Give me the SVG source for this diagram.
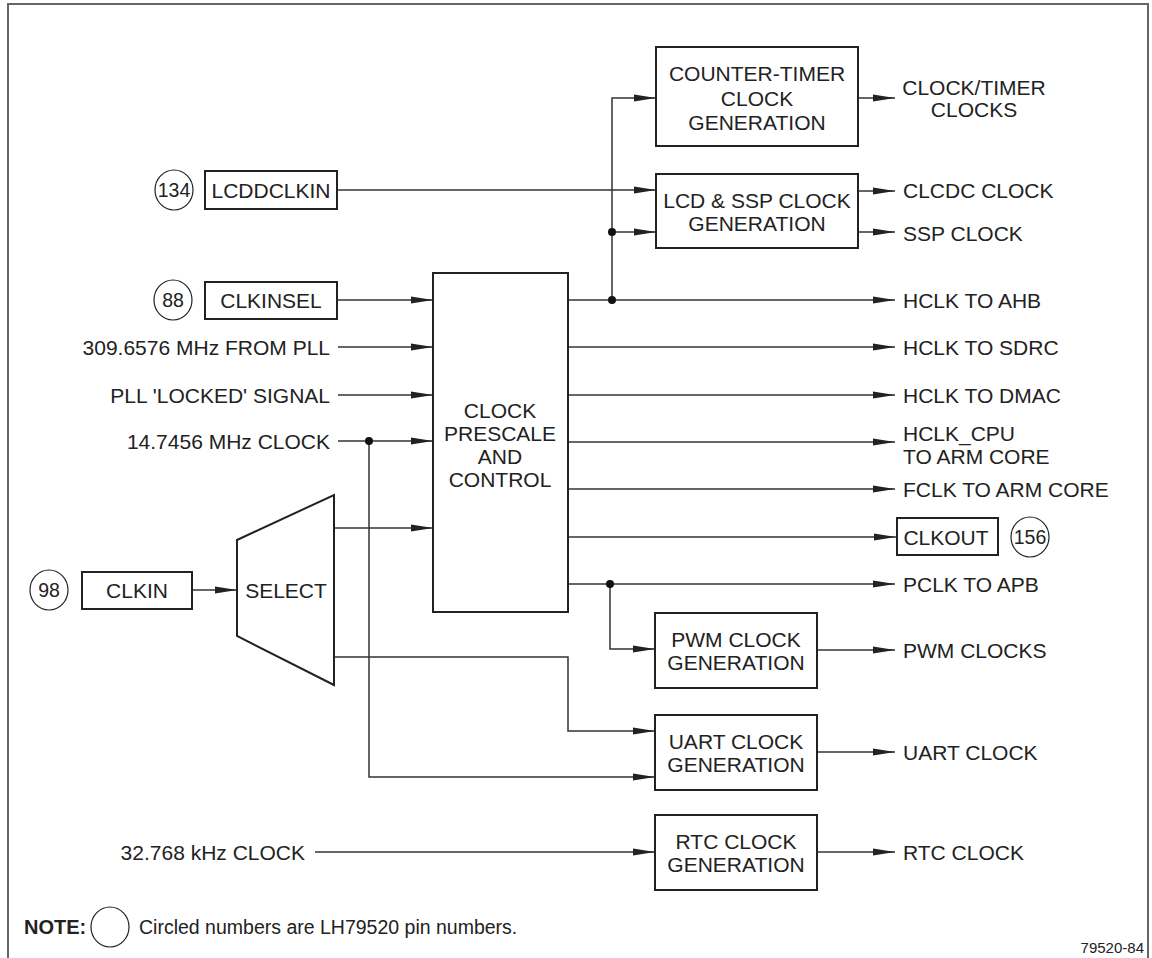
<svg xmlns="http://www.w3.org/2000/svg" width="1152" height="958" viewBox="0 0 1152 958">
<defs>
<marker id="ah" markerUnits="userSpaceOnUse" markerWidth="23" markerHeight="9" refX="22" refY="4" orient="auto">
<path d="M0,0.5 L22,4 L0,7.5 z" fill="#222"/>
</marker>
<style>
text{font-family:"Liberation Sans",Arial,sans-serif;font-size:21px;fill:#222;dominant-baseline:central}
.c{text-anchor:middle}
.e{text-anchor:end}
.n{font-size:19.5px}
.box{fill:#fff;stroke:#222;stroke-width:2}
.pin{fill:#fff;stroke:#222;stroke-width:1.2}
.w{fill:none;stroke:#333;stroke-width:1.5}
.a{marker-end:url(#ah)}
.dot{fill:#111}
</style>
</defs>
<rect width="1152" height="958" fill="#fff"/>
<path d="M8,958 V4 H1148 V958" fill="none" stroke="#666" stroke-width="2"/>

<g id="connectors">
<path class="w a" d="M612,300 V98 H656"/>
<path class="w a" d="M612,232 H656"/>
<path class="w a" d="M337,190 H656"/>
<path class="w a" d="M858,98 H895"/>
<path class="w a" d="M858,191 H895"/>
<path class="w a" d="M858,232 H895"/>
<path class="w a" d="M337,300 H433"/>
<path class="w a" d="M338,347 H433"/>
<path class="w a" d="M338,395 H433"/>
<path class="w a" d="M338,441 H433"/>
<path class="w a" d="M369,441 V777 H655"/>
<path class="w a" d="M192,590 H237"/>
<path class="w a" d="M334,528 H433"/>
<path class="w a" d="M334,657 H568 V731 H655"/>
<path class="w a" d="M568,300 H895"/>
<path class="w a" d="M568,347 H895"/>
<path class="w a" d="M568,395 H895"/>
<path class="w a" d="M568,442 H895"/>
<path class="w a" d="M568,489 H895"/>
<path class="w a" d="M568,537 H896"/>
<path class="w a" d="M568,584 H895"/>
<path class="w a" d="M610,584 V649 H655"/>
<path class="w a" d="M817,650 H895"/>
<path class="w a" d="M817,752 H895"/>
<path class="w a" d="M315,852 H655"/>
<path class="w a" d="M817,852 H895"/>
<circle class="dot" cx="612" cy="232" r="4"/>
<circle class="dot" cx="612" cy="300" r="4"/>
<circle class="dot" cx="369" cy="441" r="4"/>
<circle class="dot" cx="610" cy="584" r="4"/>
</g>

<g id="counter-timer">
<rect class="box" x="656" y="47" width="202" height="99"/>
<text class="c" x="757" y="73">COUNTER-TIMER</text>
<text class="c" x="757" y="98">CLOCK</text>
<text class="c" x="757" y="122">GENERATION</text>
</g>
<g id="lcd-ssp">
<rect class="box" x="656" y="174" width="202" height="74"/>
<text class="c" x="757" y="200">LCD &amp; SSP CLOCK</text>
<text class="c" x="757" y="223">GENERATION</text>
</g>
<g id="prescale">
<rect class="box" x="433" y="273" width="135" height="339"/>
<text class="c" x="500" y="410">CLOCK</text>
<text class="c" x="500" y="433">PRESCALE</text>
<text class="c" x="500" y="456">AND</text>
<text class="c" x="500" y="479">CONTROL</text>
</g>
<g id="select">
<polygon class="box" points="237,540 334,495 334,685 237,636"/>
<text class="c" x="286" y="590">SELECT</text>
</g>
<g id="pwm">
<rect class="box" x="655" y="613" width="162" height="75"/>
<text class="c" x="736" y="639">PWM CLOCK</text>
<text class="c" x="736" y="662">GENERATION</text>
</g>
<g id="uart">
<rect class="box" x="655" y="715" width="162" height="75"/>
<text class="c" x="736" y="741">UART CLOCK</text>
<text class="c" x="736" y="764">GENERATION</text>
</g>
<g id="rtc">
<rect class="box" x="655" y="815" width="162" height="75"/>
<text class="c" x="736" y="841">RTC CLOCK</text>
<text class="c" x="736" y="864">GENERATION</text>
</g>

<g id="lcddclkin">
<ellipse class="pin" cx="174" cy="190" rx="19" ry="20"/>
<text class="c n" x="174" y="190">134</text>
<rect class="box" x="205" y="171" width="132" height="38"/>
<text class="c" x="271" y="190">LCDDCLKIN</text>
</g>
<g id="clkinsel">
<ellipse class="pin" cx="173" cy="300" rx="19" ry="20"/>
<text class="c n" x="173" y="300">88</text>
<rect class="box" x="205" y="282" width="132" height="37"/>
<text class="c" x="271" y="300">CLKINSEL</text>
</g>
<g id="clkin">
<ellipse class="pin" cx="49" cy="590" rx="19" ry="20"/>
<text class="c n" x="49" y="590">98</text>
<rect class="box" x="82" y="572" width="110" height="37"/>
<text class="c" x="137" y="590">CLKIN</text>
</g>
<g id="clkout">
<rect class="box" x="897" y="518" width="101" height="37"/>
<text class="c" x="946" y="537">CLKOUT</text>
<ellipse class="pin" cx="1030" cy="537" rx="19" ry="20"/>
<text class="c n" x="1030" y="537">156</text>
</g>

<g id="input-labels">
<text class="e" x="330" y="347">309.6576 MHz FROM PLL</text>
<text class="e" x="330" y="395">PLL 'LOCKED' SIGNAL</text>
<text class="e" x="330" y="441">14.7456 MHz CLOCK</text>
<text class="e" x="305" y="852">32.768 kHz CLOCK</text>
</g>
<g id="output-labels">
<text class="c" x="974" y="87">CLOCK/TIMER</text>
<text class="c" x="974" y="109">CLOCKS</text>
<text x="903" y="190">CLCDC CLOCK</text>
<text x="903" y="233">SSP CLOCK</text>
<text x="903" y="300">HCLK TO AHB</text>
<text x="903" y="347">HCLK TO SDRC</text>
<text x="903" y="395">HCLK TO DMAC</text>
<text x="903" y="433">HCLK_CPU</text>
<text x="903" y="456">TO ARM CORE</text>
<text x="903" y="489">FCLK TO ARM CORE</text>
<text x="903" y="584">PCLK TO APB</text>
<text x="903" y="650">PWM CLOCKS</text>
<text x="903" y="752">UART CLOCK</text>
<text x="903" y="852">RTC CLOCK</text>
</g>

<g id="note">
<text x="24" y="927" font-weight="bold" style="font-size:20px">NOTE:</text>
<ellipse class="pin" cx="110" cy="927" rx="19" ry="20"/>
<text x="139" y="927" style="font-size:19.5px">Circled numbers are LH79520 pin numbers.</text>
<text x="1144" y="953" style="dominant-baseline:auto;font-size:15px" class="e">79520-84</text>
</g>
</svg>
